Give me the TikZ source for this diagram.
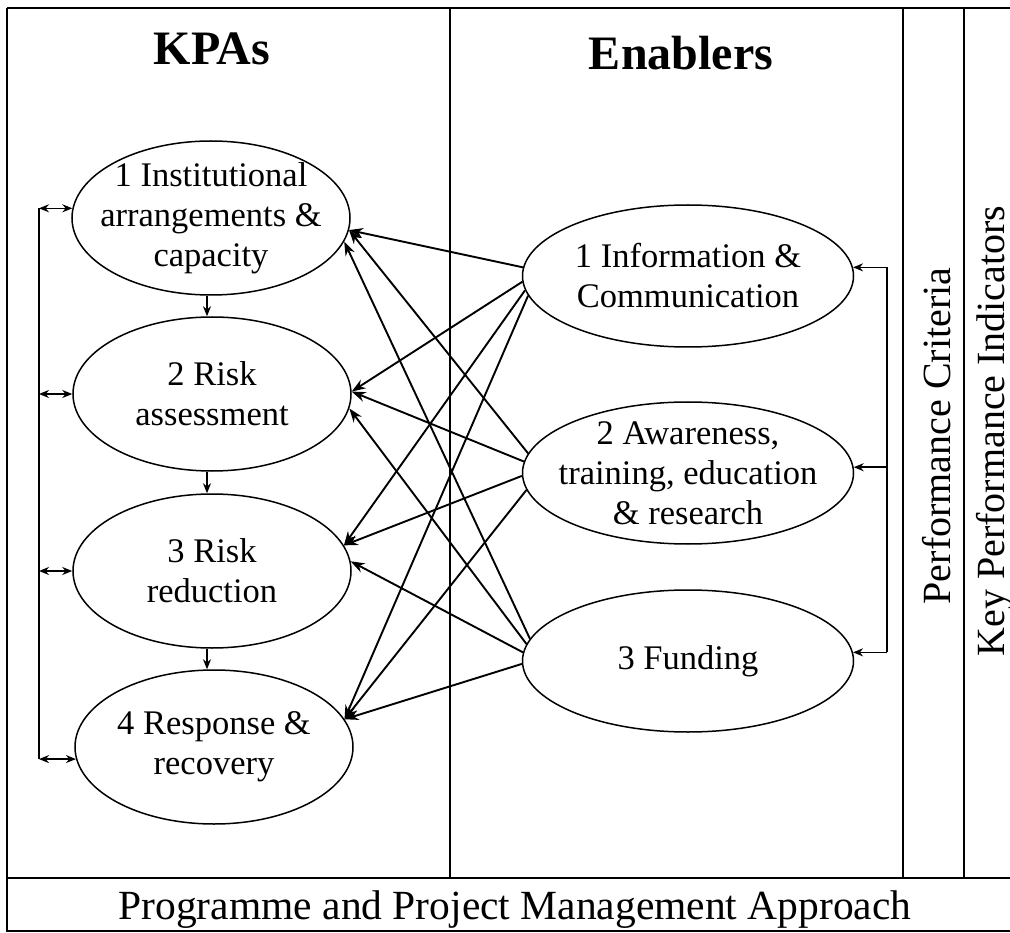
\documentclass[tikz,border=0pt]{standalone}
\usepackage{fontspec}
\setmainfont{Liberation Serif}
\usetikzlibrary{arrows.meta,shapes.geometric}
\begin{document}
\begin{tikzpicture}[x=1pt,y=-1pt,
  kpa/.style={ellipse,draw,line width=1.5pt,minimum width=278pt,minimum height=154pt,inner sep=0pt},
  enb/.style={ellipse,draw,line width=1.5pt,minimum width=331pt,minimum height=142pt,inner sep=0pt},
  lbl/.style={align=center,font=\fontsize{34.5}{40}\selectfont,inner sep=0pt},
  head/.style={font=\fontsize{48}{56}\selectfont\bfseries,anchor=base,inner sep=0pt},
  vtxt/.style={rotate=90,anchor=base,font=\fontsize{40}{48}\selectfont,inner sep=0pt},
  arr/.style={line width=1.9pt,-{Stealth[length=14pt,width=10pt]}},
  sarr/.style={line width=1.5pt,-{Stealth[length=10pt,width=8pt]}},
  darr/.style={line width=1.5pt,{Stealth[length=10pt,width=8pt]}-{Stealth[length=10pt,width=8pt]}},
  frame/.style={line width=1.9pt}]
\useasboundingbox (0,0) rectangle (1010,933);
% frame
\draw[frame] (7,8) -- (1015,8);
\draw[frame] (7,8) -- (7,931) -- (1015,931);
\draw[frame] (7,878) -- (1015,878);
\draw[frame] (450,8) -- (450,878);
\draw[frame] (903,8) -- (903,878);
\draw[frame] (964,8) -- (964,878);
% headers
\node[head] (hk) at (212,65) {KPAs};
\node[head] (he) at (681,70) {Enablers};
% KPA ellipses
\node[kpa] (E1) at (211,218) {};
\node[kpa] (E2) at (212,394) {};
\node[kpa] (E3) at (212,571) {};
\node[kpa] (E4) at (214,747) {};
\node[lbl] (t1) at (E1) {1 Institutional\\arrangements \&\\capacity};
\node[lbl] (t2) at (E2) {2 Risk\\assessment};
\node[lbl] (t3) at (E3) {3 Risk\\reduction};
\node[lbl] (t4) at (E4) {4 Response \&\\recovery};
% enabler ellipses
\node[enb] (F1) at (688,276) {};
\node[enb] (F2) at (688,473) {};
\node[enb] (F3) at (688,661) {};
\node[lbl] (u1) at (F1) {1 Information \&\\Communication};
\node[lbl] (u2) at (F2) {2 Awareness,\\training, education\\\& research};
\node[lbl] (u3) at (F3) {3 Funding};
% cross arrows
\draw[arr] (F1.177) -- (E1.-5);
\draw[arr] (F1.182) -- (E2.1);
\draw[arr] (F1.185) -- (E3.11);
\draw[arr] (F1.187) -- (E4.12);
\draw[arr] (F2.173) -- (E1.-5);
\draw[arr] (F2.176) -- (E2.1);
\draw[arr] (F2.181) -- (E3.11);
\draw[arr] (F2.186) -- (E4.12);
\draw[arr] (F3.172) -- (E1.-10);
\draw[arr] (F3.174) -- (E2.-6);
\draw[arr] (F3.177) -- (E3.4);
\draw[arr] (F3.181) -- (E4.12);
% down arrows
\coordinate (dx) at (207,0);
\draw[sarr] (E1.south -| dx) -- (E2.north -| dx);
\draw[sarr] (E2.south -| dx) -- (E3.north -| dx);
\draw[sarr] (E3.south -| dx) -- (E4.north -| dx);
% left loop
\coordinate (lx) at (39,0);
\draw[line width=1.5pt] (E1.176 -| lx) -- (E4.185 -| lx);
\draw[darr] (E1.176 -| lx) -- (E1.176);
\draw[darr] (E2.180 -| lx) -- (E2.180);
\draw[darr] (E3.180 -| lx) -- (E3.180);
\draw[darr] (E4.185 -| lx) -- (E4.185);
% right feedback
\coordinate (rx) at (887,0);
\draw[line width=1.5pt] (F1.3 -| rx) -- (F3.3 -| rx);
\draw[sarr] (F1.3 -| rx) -- (F1.3);
\draw[sarr] (F2.2 -| rx) -- (F2.2);
\draw[sarr] (F3.3 -| rx) -- (F3.3);
% vertical texts
\node[vtxt] (pc) at (950,436) {Performance Criteria};
\node[vtxt] (kpi) at (1004,431) {Key Performance Indicators};
% bottom
\node[anchor=base,font=\fontsize{41.5}{48}\selectfont,inner sep=0pt] (pm) at (515,919) {Programme and Project Management Approach};
\end{tikzpicture}
\end{document}
